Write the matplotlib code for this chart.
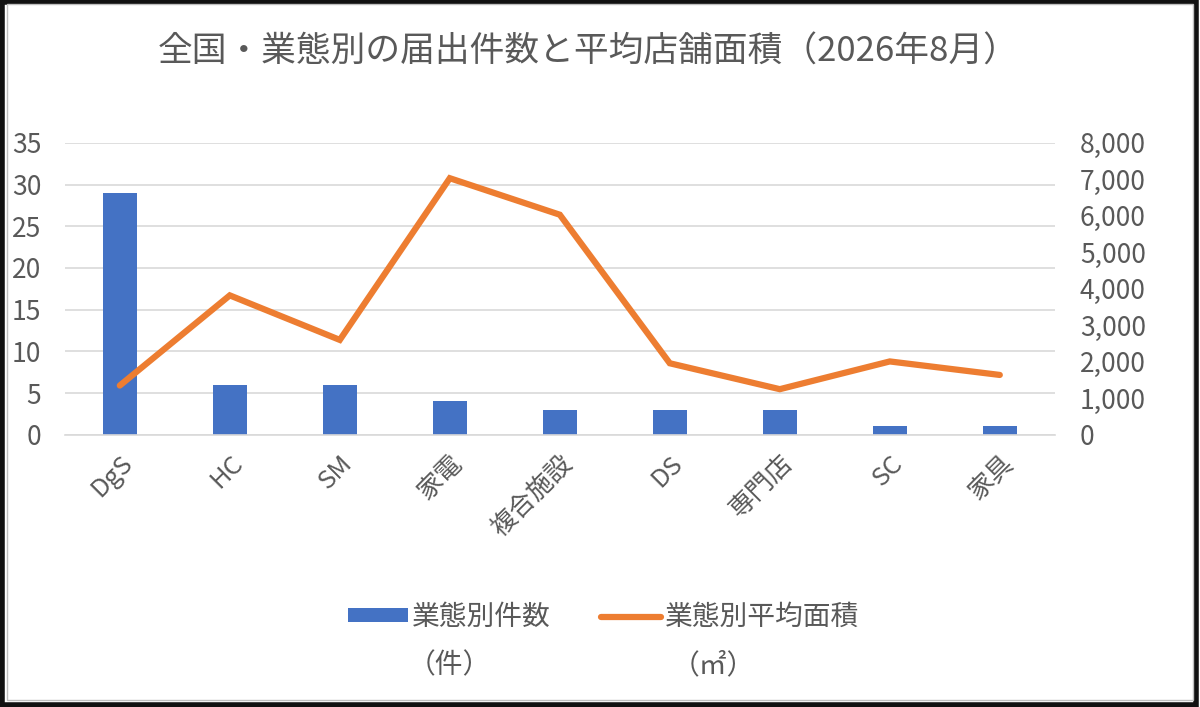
import matplotlib
matplotlib.use("Agg")
import matplotlib.pyplot as plt
from matplotlib.patches import Rectangle

plt.rcParams['font.family'] = ['Noto Sans CJK JP', 'DejaVu Sans']

# data
categories = ["DgS", "HC", "SM", "家電", "複合施設", "DS", "専門店", "SC", "家具"]
counts = [29, 6, 6, 4, 3, 3, 3, 1, 1]
avg_area = [1350, 3820, 2600, 7030, 6030, 1960, 1250, 2010, 1640]
left_ticks = [0, 5, 10, 15, 20, 25, 30, 35]
right_ticks = [0, 1000, 2000, 3000, 4000, 5000, 6000, 7000, 8000]

blue = "#4472C4"
orange = "#ED7D31"
grey_txt = "#595959"

fig = plt.figure(figsize=(12, 7.07), dpi=100)
ax = fig.add_axes([0.054, 0.385, 0.825, 0.413])
ax2 = ax.twinx()

x = list(range(len(categories)))
bars = ax.bar(x, counts, width=0.31, color=blue, zorder=2, label="業態別件数")
line, = ax2.plot(x, avg_area, color=orange, lw=4.5, solid_capstyle='round',
                 solid_joinstyle='miter', zorder=3, label="業態別平均面積")

ax.set_xlim(-0.5, len(categories) - 0.5)
ax.set_ylim(0, 35)
ax2.set_ylim(0, 8000)
ax.set_yticks(left_ticks)
ax2.set_yticks(right_ticks)
ax2.set_yticklabels([f"{v:,}" for v in right_ticks])
ax.yaxis.grid(True, color="#D9D9D9", lw=1.2, zorder=0)
ax.set_axisbelow(True)

for a in (ax, ax2):
    for s in a.spines.values():
        s.set_visible(False)
    a.tick_params(length=0, labelsize=19, labelcolor=grey_txt)
ax.spines['bottom'].set_visible(True)
ax.spines['bottom'].set_color("#D9D9D9")
ax.spines['bottom'].set_linewidth(1.2)

ax.tick_params(axis='y', pad=17)
ax2.tick_params(axis='y', pad=18)
ax.set_xticks(x)
ax.set_xticklabels(categories, rotation=45, ha='right', rotation_mode='anchor')
ax.tick_params(axis='x', pad=11, labelsize=18.5)

fig.text(0.49, 0.926, "全国・業態別の届出件数と平均店舗面積（2026年8月）",
         ha='center', va='center', fontsize=25, color=grey_txt)

leg = fig.legend([bars, line], ["業態別件数", "業態別平均面積"], loc='center',
                 bbox_to_anchor=(0.503, 0.127), ncol=2, frameon=False,
                 fontsize=20, handlelength=2.15, handleheight=0.4,
                 handletextpad=0.15, columnspacing=1.8, labelcolor=grey_txt)
fig.text(0.374, 0.059, "（件）", ha='center', va='center', fontsize=20, color=grey_txt)
fig.text(0.594, 0.059, "（㎡）", ha='center', va='center', fontsize=20, color=grey_txt)

# frame around the picture
fig.patches.append(Rectangle((0.002, 0.003), 0.995, 0.994, transform=fig.transFigure,
                             fill=False, edgecolor="#111111", lw=4))
fig.patches.append(Rectangle((0.006, 0.010), 0.988, 0.984, transform=fig.transFigure,
                             fill=False, edgecolor="#BFBFBF", lw=1))

fig.savefig("out.png", dpi=100)
